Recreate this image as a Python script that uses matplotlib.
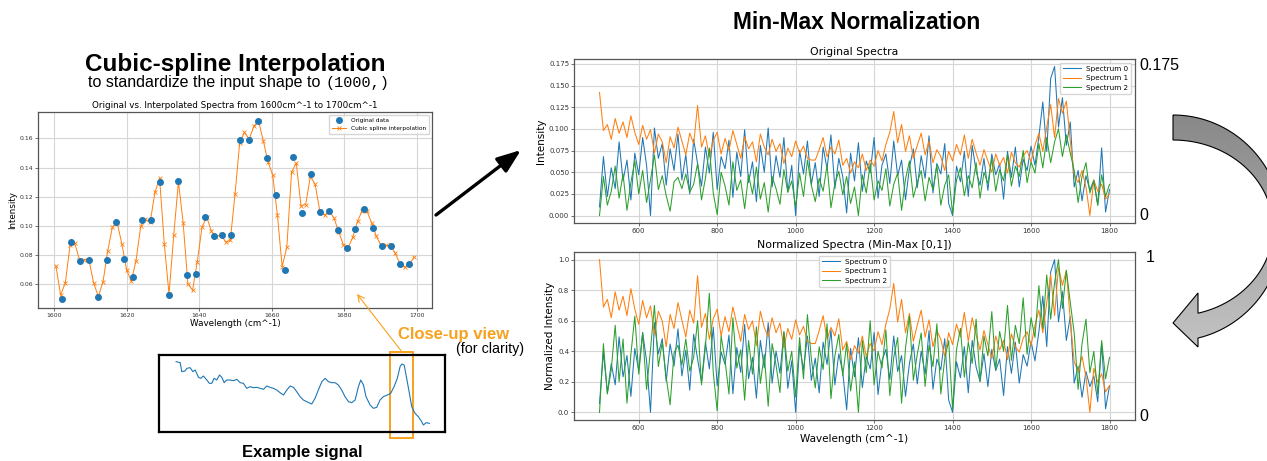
import numpy as np
import matplotlib
matplotlib.use("Agg")
import matplotlib.pyplot as plt
import matplotlib.transforms as mtransforms
from matplotlib.patches import Rectangle, Polygon
from matplotlib.colors import LinearSegmentedColormap

W, H = 1267, 461

# --- close-up (1600-1700 cm^-1): original points and cubic-spline resampling ---
orig_x = [1602.3, 1604.7, 1607.1, 1609.6, 1612.1, 1614.5, 1617.0, 1619.4, 1621.8, 1624.2,
          1626.8, 1629.2, 1631.7, 1634.1, 1636.6, 1639.1, 1641.5, 1644.0, 1646.4, 1648.8,
          1651.3, 1653.7, 1656.2, 1658.7, 1661.1, 1663.6, 1666.0, 1668.5, 1670.9, 1673.4,
          1675.9, 1678.3, 1680.7, 1683.1, 1685.6, 1688.0, 1690.5, 1693.0, 1695.4, 1697.8]
orig_y = [0.0499, 0.0890, 0.0763, 0.0768, 0.0510, 0.0770, 0.1030, 0.0775, 0.0648, 0.1041,
          0.1041, 0.1300, 0.0529, 0.1308, 0.0667, 0.0669, 0.1060, 0.0931, 0.0936, 0.0936,
          0.1586, 0.1590, 0.1720, 0.1469, 0.1211, 0.0699, 0.1476, 0.1092, 0.1354, 0.1097,
          0.1101, 0.0975, 0.0851, 0.0979, 0.1113, 0.0989, 0.0864, 0.0864, 0.0740, 0.0742]

interp_x = [1600.5, 1601.8, 1603.1, 1604.4, 1605.7, 1607.0, 1608.3, 1609.6, 1610.9, 1612.2,
            1613.5, 1614.8, 1616.1, 1617.4, 1618.7, 1620.0, 1621.3, 1622.6, 1623.9, 1625.2,
            1626.5, 1627.8, 1629.1, 1630.4, 1631.7, 1633.0, 1634.3, 1635.6, 1636.9, 1638.2,
            1639.5, 1640.8, 1642.1, 1643.4, 1644.7, 1646.0, 1647.3, 1648.6, 1649.9, 1651.2,
            1652.5, 1653.8, 1655.1, 1656.4, 1657.7, 1659.0, 1660.3, 1661.6, 1662.9, 1664.2,
            1665.5, 1666.8, 1668.1, 1669.4, 1670.7, 1672.0, 1673.3, 1674.6, 1675.9, 1677.2,
            1678.5, 1679.8, 1681.1, 1682.4, 1683.7, 1685.0, 1686.3, 1687.6, 1688.9, 1690.2,
            1691.5, 1692.8, 1694.1, 1695.4, 1696.7, 1698.0, 1699.3]
interp_y = [0.0726, 0.0526, 0.0611, 0.0867, 0.0880, 0.0770, 0.0770, 0.0770, 0.0610, 0.0517,
            0.0618, 0.0830, 0.0995, 0.1023, 0.0876, 0.0699, 0.0623, 0.0763, 0.0998, 0.1046,
            0.1025, 0.1230, 0.1326, 0.0876, 0.0533, 0.0936, 0.1303, 0.1021, 0.0605, 0.0559,
            0.0756, 0.0991, 0.1062, 0.0963, 0.0922, 0.0945, 0.0890, 0.0901, 0.1216, 0.1572,
            0.1641, 0.1595, 0.1683, 0.1720, 0.1584, 0.1439, 0.1350, 0.1074, 0.0722, 0.0855,
            0.1368, 0.1432, 0.1138, 0.1147, 0.1340, 0.1285, 0.1101, 0.1074, 0.1101, 0.1055,
            0.0959, 0.0871, 0.0851, 0.0924, 0.1032, 0.1106, 0.1101, 0.1021, 0.0929, 0.0867,
            0.0867, 0.0867, 0.0814, 0.0740, 0.0717, 0.0738, 0.0786]

# --- example signal (whole range) ---
sig_x = [500, 521, 529, 546, 555, 572, 586, 598, 615, 627, 640, 658, 671, 683, 695, 709, 723,
         735, 747, 760, 777, 795, 812, 829, 846, 863, 880, 897, 915, 932, 949, 966, 983, 1000,
         1017, 1034, 1052, 1069, 1086, 1103, 1120, 1137, 1154, 1171, 1197, 1214, 1231, 1249,
         1266, 1283, 1300, 1317, 1334, 1351, 1368, 1386, 1403, 1420, 1437, 1449, 1463, 1476,
         1497, 1514, 1531, 1548, 1565, 1586, 1603, 1620, 1637, 1651, 1660, 1672, 1685, 1699,
         1711, 1728, 1745, 1762, 1771, 1785, 1802]
sig_y = [0.235, 0.232, 0.205, 0.207, 0.215, 0.217, 0.205, 0.210, 0.188, 0.185, 0.192, 0.180,
         0.170, 0.170, 0.185, 0.180, 0.195, 0.188, 0.172, 0.180, 0.180, 0.178, 0.182, 0.172,
         0.170, 0.155, 0.160, 0.157, 0.158, 0.155, 0.152, 0.162, 0.158, 0.155, 0.150, 0.142,
         0.135, 0.150, 0.162, 0.158, 0.145, 0.130, 0.120, 0.115, 0.108, 0.125, 0.150, 0.175,
         0.185, 0.175, 0.172, 0.172, 0.165, 0.150, 0.130, 0.115, 0.112, 0.120, 0.160, 0.180,
         0.165, 0.130, 0.105, 0.095, 0.098, 0.120, 0.130, 0.135, 0.140, 0.160, 0.185, 0.220,
         0.228, 0.225, 0.185, 0.140, 0.100, 0.080, 0.070, 0.055, 0.045, 0.052, 0.050]

# --- three spectra, 500..1800 cm^-1 every 10 ---
wavenumbers = list(range(500, 1801, 10))
spectrum_0 = [0.010, 0.068, 0.022, 0.055, 0.031, 0.085, 0.040, 0.064, 0.018, 0.072,
              0.047, 0.090, 0.058, 0.000, 0.101, 0.066, 0.083, 0.035, 0.077, 0.052,
              0.094, 0.041, 0.070, 0.025, 0.088, 0.060, 0.034, 0.079, 0.049, 0.096,
              0.030, 0.068, 0.054, 0.087, 0.021, 0.073, 0.045, 0.099, 0.038, 0.062,
              0.016, 0.081, 0.050, 0.101, 0.033, 0.069, 0.044, 0.090, 0.027, 0.058,
              0.000, 0.075, 0.048, 0.086, 0.036, 0.061, 0.022, 0.079, 0.054, 0.093,
              0.031, 0.066, 0.045, 0.003, 0.072, 0.040, 0.084, 0.028, 0.063, 0.049,
              0.090, 0.020, 0.058, 0.071, 0.037, 0.086, 0.046, 0.064, 0.018, 0.055,
              0.077, 0.032, 0.069, 0.043, 0.092, 0.026, 0.060, 0.048, 0.083, 0.014,
              0.000, 0.057, 0.039, 0.074, 0.022, 0.081, 0.051, 0.035, 0.066, 0.029,
              0.071, 0.047, 0.060, 0.019, 0.074, 0.044, 0.079, 0.033, 0.065, 0.052,
              0.080, 0.058, 0.091, 0.131, 0.074, 0.158, 0.172, 0.102, 0.136, 0.081,
              0.108, 0.033, 0.052, 0.017, 0.046, 0.029, 0.041, 0.012, 0.078, 0.004,
              0.030]
spectrum_1 = [0.142, 0.098, 0.105, 0.088, 0.112, 0.095, 0.108, 0.090, 0.115, 0.096,
              0.082, 0.104, 0.088, 0.099, 0.072, 0.094, 0.085, 0.061, 0.091, 0.078,
              0.102, 0.086, 0.070, 0.095, 0.083, 0.127, 0.079, 0.092, 0.068, 0.087,
              0.096, 0.071, 0.089, 0.075, 0.098, 0.082, 0.066, 0.091, 0.077, 0.085,
              0.062, 0.094, 0.079, 0.070, 0.088, 0.074, 0.083, 0.060, 0.078, 0.068,
              0.086, 0.072, 0.080, 0.066, 0.064, 0.064, 0.076, 0.090, 0.068, 0.079,
              0.071, 0.087, 0.058, 0.066, 0.049, 0.062, 0.055, 0.071, 0.052, 0.064,
              0.057, 0.075, 0.063, 0.082, 0.096, 0.120, 0.084, 0.105, 0.074, 0.092,
              0.066, 0.081, 0.095, 0.070, 0.086, 0.061, 0.076, 0.068, 0.052, 0.074,
              0.063, 0.082, 0.070, 0.093, 0.066, 0.088, 0.072, 0.058, 0.076, 0.063,
              0.050, 0.071, 0.058, 0.067, 0.049, 0.073, 0.061, 0.056, 0.069, 0.075,
              0.062, 0.081, 0.095, 0.074, 0.102, 0.128, 0.090, 0.135, 0.118, 0.132,
              0.086, 0.047, 0.038, 0.052, 0.033, 0.000, 0.041, 0.028, 0.036, 0.019,
              0.025]
spectrum_2 = [0.000, 0.045, 0.012, 0.028, 0.057, 0.020, 0.048, 0.006, 0.038, 0.063,
              0.025, 0.052, 0.015, 0.041, 0.070, 0.030, 0.046, 0.023, 0.005, 0.039,
              0.044, 0.031, 0.048, 0.027, 0.036, 0.060, 0.018, 0.043, 0.078, 0.026,
              0.001, 0.050, 0.034, 0.012, 0.062, 0.029, 0.041, 0.008, 0.047, 0.025,
              0.056, 0.019, 0.038, 0.004, 0.045, 0.031, 0.013, 0.053, 0.027, 0.040,
              0.010, 0.049, 0.022, 0.064, 0.035, 0.016, 0.043, 0.028, 0.058, 0.009,
              0.037, 0.051, 0.024, 0.045, 0.014, 0.033, 0.000, 0.047, 0.026, 0.060,
              0.018, 0.040, 0.029, 0.054, 0.011, 0.036, 0.049, 0.006, 0.042, 0.063,
              0.021, 0.038, 0.052, 0.017, 0.044, 0.030, 0.058, 0.012, 0.035, 0.047,
              0.002, 0.041, 0.055, 0.023, 0.046, 0.032, 0.061, 0.020, 0.050, 0.037,
              0.066, 0.028, 0.053, 0.040, 0.070, 0.034, 0.057, 0.045, 0.075, 0.038,
              0.062, 0.049, 0.083, 0.055, 0.090, 0.061, 0.085, 0.100, 0.068, 0.093,
              0.072, 0.052, 0.015, 0.045, 0.061, 0.026, 0.040, 0.012, 0.047, 0.022,
              0.036]
spectra = [spectrum_0, spectrum_1, spectrum_2]
spec_labels = ["Spectrum 0", "Spectrum 1", "Spectrum 2"]
spec_colors = ["#1f77b4", "#ff7f0e", "#2ca02c"]

ORANGE = "#F7A11E"
TITLE_FONT = "Liberation Sans"

fig = plt.figure(figsize=(W / 100, H / 100), dpi=100)


def px_axes(left, top, right, bottom):
    return fig.add_axes([left / W, 1 - bottom / H, (right - left) / W, (bottom - top) / H])


def style(ax, tick_size):
    ax.grid(True, color="#d6d6d6", lw=0.8)
    ax.set_axisbelow(True)
    ax.tick_params(labelsize=tick_size, length=2, width=0.5, pad=1.5, colors="#333333")
    for sp in ax.spines.values():
        sp.set_color("#555555")
        sp.set_linewidth(0.9)


# left: close-up of the interpolation
ax1 = px_axes(38, 112, 432, 308)
ax1.plot(orig_x, orig_y, "o", color="#1f77b4", ms=4, label="Original data", zorder=3)
ax1.plot(interp_x, interp_y, "-x", color="#ff7f0e", lw=0.7, ms=3, mew=0.6,
         label="Cubic spline interpolation", zorder=2)
ax1.set_title("Original vs. Interpolated Spectra from 1600cm^-1 to 1700cm^-1", fontsize=6.3, pad=3)
ax1.set_xlabel("Wavelength (cm^-1)", fontsize=6.3, labelpad=1)
ax1.set_ylabel("Intensity", fontsize=6.3, labelpad=2)
style(ax1, 4.4)
ax1.legend(loc="upper right", fontsize=4.2, handlelength=2.5, borderpad=0.5)

# right top: original spectra
ax2 = px_axes(574, 59, 1135, 223)
for s, lab, c in zip(spectra, spec_labels, spec_colors):
    ax2.plot(wavenumbers, s, color=c, lw=0.75, label=lab)
ax2.set_title("Original Spectra", fontsize=7.8, pad=3)
ax2.set_ylabel("Intensity", fontsize=7.5, labelpad=2)
style(ax2, 5)
ax2.legend(loc="upper right", fontsize=5.2, handlelength=2.5)

# right bottom: min-max normalized spectra
ax3 = px_axes(574, 252, 1135, 420)
for s, lab, c in zip(spectra, spec_labels, spec_colors):
    a = np.array(s)
    ax3.plot(wavenumbers, (a - a.min()) / (a.max() - a.min()), color=c, lw=0.75, label=lab)
ax3.set_title("Normalized Spectra (Min-Max [0,1])", fontsize=7.8, pad=3)
ax3.set_xlabel("Wavelength (cm^-1)", fontsize=7.5, labelpad=2)
ax3.set_ylabel("Normalized Intensity", fontsize=7.5, labelpad=2)
style(ax3, 5)
ax3.legend(loc="upper center", fontsize=5.2, handlelength=2.5)

# example signal box with the close-up window marked
ax4 = px_axes(159, 355, 445, 432)
ax4.plot(sig_x, sig_y, color="#1f77b4", lw=0.8)
ax4.set_xlim(412, 1882)
ax4.set_ylim(0.024, 0.255)
ax4.set_xticks([])
ax4.set_yticks([])
for sp in ax4.spines.values():
    sp.set_color("black")
    sp.set_linewidth(1.6)
blend = mtransforms.blended_transform_factory(ax4.transData, ax4.transAxes)
ax4.add_patch(Rectangle((1600, -0.078), 120, 1.117, transform=blend, fill=False,
                        ec=ORANGE, lw=1.4, clip_on=False))

# overlay in pixel coordinates for titles, notes and arrows
ov = fig.add_axes([0, 0, 1, 1], zorder=10)
ov.axis("off")

ov.text(235, 71, "Cubic-spline Interpolation", fontsize=17.5, weight="bold",
        family=TITLE_FONT, ha="center", va="baseline")
ov.text(320, 87, "to standardize the input shape to", fontsize=11.5,
        family=TITLE_FONT, ha="right", va="baseline")
ov.text(325, 87, "(1000,)", fontsize=11, family="Liberation Mono", ha="left", va="baseline")
ov.text(857, 29, "Min-Max Normalization", fontsize=16.4, weight="bold",
        family=TITLE_FONT, ha="center", va="baseline")
ov.text(454, 339, "Close-up view", fontsize=12, weight="bold", color=ORANGE,
        family=TITLE_FONT, ha="center", va="baseline")
ov.text(524, 353, "(for clarity)", fontsize=10.3, family=TITLE_FONT, ha="right", va="baseline")
ov.text(302, 457, "Example signal", fontsize=12, weight="bold",
        family=TITLE_FONT, ha="center", va="baseline")
for y, s in [(70, "0.175"), (220, "0"), (262, "1"), (421, "0")]:
    ov.text(1139 if s != "1" else 1146, y, s, fontsize=11.5, family=TITLE_FONT,
            ha="left", va="baseline")

ov.annotate("", xy=(521, 150), xytext=(436, 215),
            arrowprops=dict(arrowstyle="-|>,head_length=0.8,head_width=0.3", lw=2.4,
                            color="black", mutation_scale=18, shrinkA=0, shrinkB=0))
ov.annotate("", xy=(357, 294), xytext=(402, 352),
            arrowprops=dict(arrowstyle="->,head_length=0.6,head_width=0.3", lw=0.8,
                            color=ORANGE, mutation_scale=8, shrinkA=0, shrinkB=0))

# curved gray arrow between the two panels
cx, cy = 1173, 228
t_out = np.linspace(-np.pi / 2, np.arccos(25 / 110), 80)
t_in = np.linspace(np.arccos(25 / 100), -np.pi / 2, 80)
outer = np.column_stack([cx + 110 * np.cos(t_out), cy + 113 * np.sin(t_out)])
inner = np.column_stack([cx + 100 * np.cos(t_in), cy + 88 * np.sin(t_in)])
head = np.array([[1198, 347], [1173, 323], [1198, 293]])
shape = Polygon(np.vstack([outer, head, inner]), closed=True, fc="none", ec="black",
                lw=0.8, zorder=3)
ov.add_patch(shape)
grey = LinearSegmentedColormap.from_list("grey", ["#878787", "#c4c4c4"])
im = ov.imshow(np.linspace(0, 1, 256).reshape(-1, 1), cmap=grey, aspect="auto",
               extent=(1160, 1300, 350, 110), zorder=2)
im.set_clip_path(shape)

ov.set_xlim(0, W)
ov.set_ylim(H, 0)

fig.savefig("out.png", dpi=100)
